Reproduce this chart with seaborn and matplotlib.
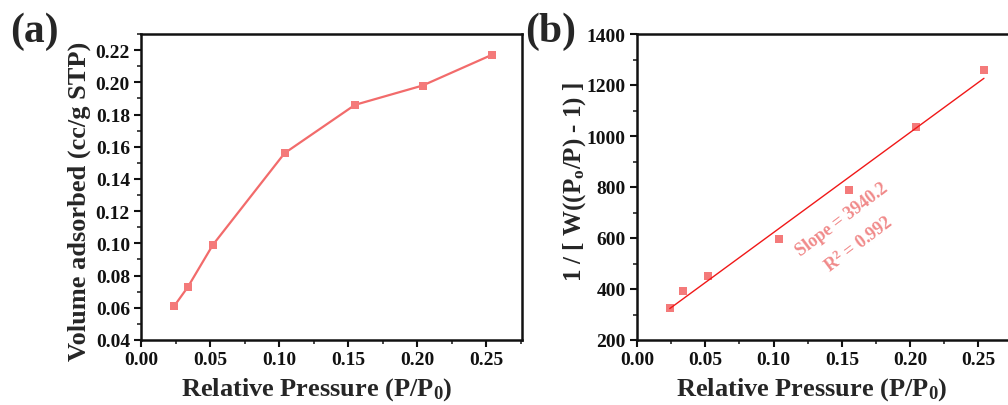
import numpy as np
import pandas as pd
import matplotlib
matplotlib.use("Agg")
import matplotlib.pyplot as plt
import seaborn as sns
from matplotlib.ticker import MultipleLocator, AutoMinorLocator

# Data
pressure = [0.024, 0.034, 0.052, 0.104, 0.155, 0.204, 0.254]
volume = [0.061, 0.073, 0.099, 0.156, 0.186, 0.198, 0.217]
bet = [325, 393, 450, 597, 790, 1035, 1260]
slope_text = "Slope = 3940.2"
r2_text = "R$^2$ = 0.992"

sns.set_theme(style="ticks")
plt.rcParams['font.family'] = ['Liberation Serif', 'DejaVu Serif']
plt.rcParams['font.weight'] = 'bold'
plt.rcParams['mathtext.fontset'] = 'custom'
plt.rcParams['mathtext.rm'] = 'Liberation Serif:bold'
plt.rcParams['mathtext.bf'] = 'Liberation Serif:bold'
plt.rcParams['mathtext.it'] = 'Liberation Serif:bold'

df = pd.DataFrame({"p": pressure, "v": volume, "b": bet})

W, H = 1008, 406
fig = plt.figure(figsize=(W / 100, H / 100), dpi=100)

def px_axes(l, t, r, b):
    return fig.add_axes([l / W, 1 - b / H, (r - l) / W, (b - t) / H])

ax1 = px_axes(141, 35, 522, 341)
ax2 = px_axes(637, 35, 1014, 341)

line_c = "#f26b6b"
mark_c = "#f47a7a"

sns.lineplot(data=df, x="p", y="v", ax=ax1, color=line_c, lw=1.6,
             marker="s", markersize=6, markeredgewidth=0, markerfacecolor=mark_c)
sns.scatterplot(data=df, x="p", y="b", ax=ax2, color=mark_c, marker="s", s=40, linewidth=0)
sns.regplot(data=df, x="p", y="b", ax=ax2, ci=None, scatter=False,
            line_kws=dict(color="#f01818", lw=1.0))

ax1.set_xlim(0, 0.276)
ax1.set_ylim(0.04, 0.23)
ax1.xaxis.set_major_locator(MultipleLocator(0.05))
ax1.yaxis.set_major_locator(MultipleLocator(0.02))
ax1.yaxis.set_major_formatter(matplotlib.ticker.FormatStrFormatter('%.2f'))
ax1.xaxis.set_major_formatter(matplotlib.ticker.FormatStrFormatter('%.2f'))

ax2.set_xlim(0, 0.276)
ax2.set_ylim(200, 1400)
ax2.xaxis.set_major_locator(MultipleLocator(0.05))
ax2.yaxis.set_major_locator(MultipleLocator(200))
ax2.xaxis.set_major_formatter(matplotlib.ticker.FormatStrFormatter('%.2f'))

for ax in (ax1, ax2):
    ax.xaxis.set_minor_locator(AutoMinorLocator(2))
    ax.yaxis.set_minor_locator(AutoMinorLocator(2))
    ax.tick_params(which="major", direction="out", length=5, width=1.5,
                   labelsize=14, colors="#111111", pad=3)
    ax.tick_params(which="minor", direction="out", length=3, width=1.2)
    for lab in ax.get_xticklabels() + ax.get_yticklabels():
        lab.set_fontweight("bold")
    for s in ax.spines.values():
        s.set_linewidth(1.8)
        s.set_color("#111111")
        s.set_visible(True)
    ax.set_xlabel("Relative Pressure (P/P$_0$)", fontsize=19, fontweight="bold")

ax1.set_ylabel("Volume adsorbed (cc/g STP)", fontsize=19, fontweight="bold")
ax2.set_ylabel("1 / [ W((P$_o$/P) - 1) ]", fontsize=18, fontweight="bold")

ax1.xaxis.set_label_coords(0.462, -0.115)
ax2.xaxis.set_label_coords(0.464, -0.115)
ax1.yaxis.set_label_coords(-0.131, 0.457)
ax2.yaxis.set_label_coords(-0.130, 0.52)

fig.text(10 / W, 1 - 32 / H, "(a)", fontsize=30, fontweight="bold", ha="left", va="center")
fig.text(525 / W, 1 - 32 / H, "(b)", fontsize=30, fontweight="bold", ha="left", va="center")

ax2.text(0.150, 674, slope_text, rotation=37, color="#f08a8a", fontsize=13,
         fontweight="bold", ha="center", va="center")
ax2.text(0.162, 579, r2_text, rotation=37, color="#f08a8a", fontsize=13,
         fontweight="bold", ha="center", va="center")

fig.savefig("out.png", dpi=100)
